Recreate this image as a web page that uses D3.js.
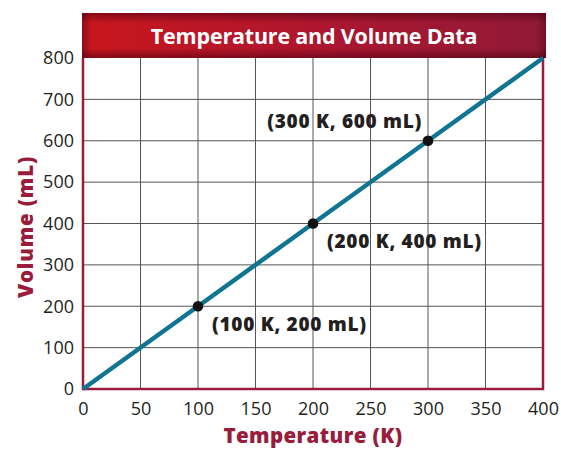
<!DOCTYPE html>
<html><head><meta charset="utf-8">
<script src="https://cdn.jsdelivr.net/npm/d3@7"></script>
<style>body{margin:0;background:#fff}svg{display:block}</style>
</head><body>
<script>
const temperature = [0, 100, 200, 300, 400];
const volume = [0, 200, 400, 600, 800];
const markedPoints = [100, 200, 300];
const markedVolumes = [200, 400, 600];
const pointLabels = ["(100 K, 200 mL)", "(200 K, 400 mL)", "(300 K, 600 mL)"];
const xTicks = [0, 50, 100, 150, 200, 250, 300, 350, 400];
const yTicks = [0, 100, 200, 300, 400, 500, 600, 700, 800];

const W = 561, H = 449;
const m = {left: 83, right: 18, top: 58, bottom: 60};
const svg = d3.select("body").append("svg").attr("width", W).attr("height", H);
const x = d3.scaleLinear().domain([0, 400]).range([m.left, W - m.right]);
const y = d3.scaleLinear().domain([0, 800]).range([H - m.bottom, m.top]);
const font = "'Open Sans', 'Noto Sans', sans-serif";
const crimson = "#9a1c3c";

const defs = svg.append("defs");
const g1 = defs.append("linearGradient").attr("id", "bg").attr("x1", 0).attr("x2", 1);
g1.append("stop").attr("offset", "0%").attr("stop-color", "#c8161d");
g1.append("stop").attr("offset", "55%").attr("stop-color", "#ab1630");
g1.append("stop").attr("offset", "100%").attr("stop-color", "#901a36");
const g2 = defs.append("linearGradient").attr("id", "vg").attr("x1", 0).attr("x2", 0).attr("y1", 0).attr("y2", 1);
g2.append("stop").attr("offset", "0%").attr("stop-color", "#4a0010").attr("stop-opacity", 0.55);
g2.append("stop").attr("offset", "22%").attr("stop-color", "#4a0010").attr("stop-opacity", 0);
g2.append("stop").attr("offset", "78%").attr("stop-color", "#4a0010").attr("stop-opacity", 0);
g2.append("stop").attr("offset", "100%").attr("stop-color", "#4a0010").attr("stop-opacity", 0.55);
const g3 = defs.append("linearGradient").attr("id", "hg").attr("x1", 0).attr("x2", 1);
g3.append("stop").attr("offset", "0%").attr("stop-color", "#4a0010").attr("stop-opacity", 0.45);
g3.append("stop").attr("offset", "2%").attr("stop-color", "#4a0010").attr("stop-opacity", 0);
g3.append("stop").attr("offset", "98%").attr("stop-color", "#4a0010").attr("stop-opacity", 0);
g3.append("stop").attr("offset", "100%").attr("stop-color", "#4a0010").attr("stop-opacity", 0.45);

// grid
const grid = svg.append("g");
grid.selectAll(".vx").data(xTicks.slice(1, -1)).join("line")
  .attr("x1", d => x(d)).attr("x2", d => x(d)).attr("y1", y(800)).attr("y2", y(0))
  .attr("stroke", "#555").attr("stroke-width", 1);
grid.selectAll(".hy").data(yTicks.slice(1, -1)).join("line")
  .attr("y1", d => y(d)).attr("y2", d => y(d)).attr("x1", x(0)).attr("x2", x(400))
  .attr("stroke", "#555").attr("stroke-width", 1);

// banner
const bx = x(0) - 1, bw = x(400) - x(0) + 4, by = 13, bh = y(800) - 13;
svg.append("rect").attr("x", bx).attr("y", by).attr("width", bw).attr("height", bh).attr("fill", "url(#bg)");
svg.append("rect").attr("x", bx).attr("y", by).attr("width", bw).attr("height", bh).attr("fill", "url(#vg)");
svg.append("rect").attr("x", bx).attr("y", by).attr("width", bw).attr("height", bh).attr("fill", "url(#hg)");
svg.append("text").attr("x", (x(0) + x(400)) / 2 + 1).attr("y", by + bh / 2 + 8)
  .attr("text-anchor", "middle").attr("fill", "#fff").attr("font-family", font)
  .attr("font-weight", 700).attr("font-size", 21.5).attr("letter-spacing", -0.2)
  .text("Temperature and Volume Data");

// border
svg.append("path")
  .attr("d", `M${x(0)},${y(800)}V${y(0)}H${x(400)}V${y(800)}`)
  .attr("fill", "none").attr("stroke", crimson).attr("stroke-width", 2.5);

// axes
const xa = svg.append("g").attr("transform", `translate(0,${y(0)})`)
  .call(d3.axisBottom(x).tickValues(xTicks).tickSize(0).tickPadding(13));
const ya = svg.append("g").attr("transform", `translate(${x(0)},0)`)
  .call(d3.axisLeft(y).tickValues(yTicks).tickSize(0).tickPadding(9));
[xa, ya].forEach(a => {
  a.select(".domain").remove();
  a.selectAll("text").attr("font-family", font).attr("font-size", 18).attr("fill", "#231f20");
});

// line
const pts = temperature.map((t, i) => [t, volume[i]]);
svg.append("path").datum(pts)
  .attr("d", d3.line().x(d => x(d[0])).y(d => y(d[1])))
  .attr("fill", "none").attr("stroke", "#0f7591").attr("stroke-width", 4.5).attr("stroke-linecap", "butt");

// points
svg.selectAll(".pt").data(markedPoints).join("circle")
  .attr("cx", d => x(d)).attr("cy", (d, i) => y(markedVolumes[i])).attr("r", 5.3).attr("fill", "#111");

// labels
const offs = [[14, 25, "start"], [14, 24, "start"], [-6, -13, "end"]];
svg.selectAll(".lb").data(pointLabels).join("text")
  .attr("x", (d, i) => x(markedPoints[i]) + offs[i][0])
  .attr("y", (d, i) => y(markedVolumes[i]) + offs[i][1])
  .attr("text-anchor", (d, i) => offs[i][2])
  .attr("font-family", font).attr("font-weight", 800).attr("font-size", 19).attr("fill", "#231f20")
  .attr("letter-spacing", 0.7)
  .text(d => d);

// axis titles
svg.append("text").attr("x", (x(0) + x(400)) / 2).attr("y", 443)
  .attr("text-anchor", "middle").attr("font-family", font).attr("font-weight", 800)
  .attr("font-size", 20.5).attr("fill", crimson).attr("letter-spacing", 0.4).text("Temperature (K)");
svg.append("text").attr("transform", `translate(33,227) rotate(-90)`)
  .attr("text-anchor", "middle").attr("font-family", font).attr("font-weight", 800)
  .attr("font-size", 20.5).attr("fill", crimson).attr("letter-spacing", 0.8).text("Volume (mL)");
</script>
</body></html>
